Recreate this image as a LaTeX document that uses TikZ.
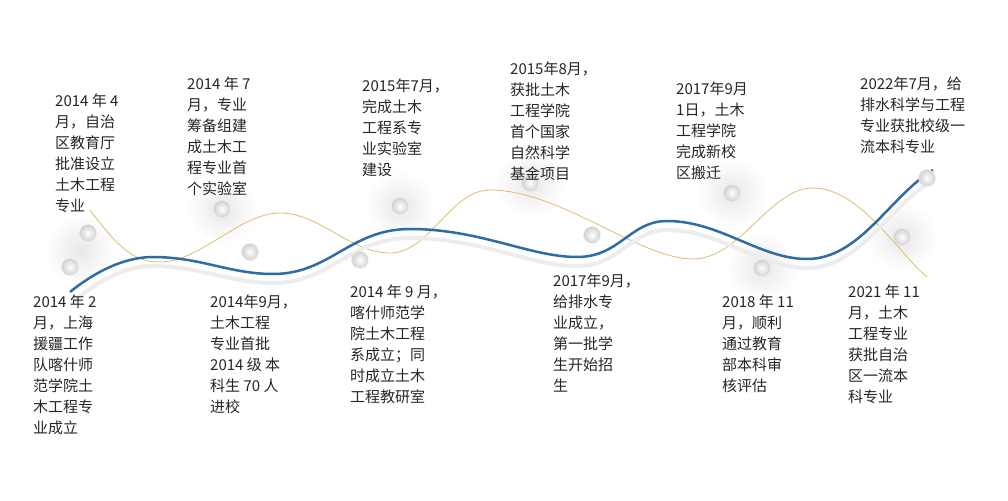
\documentclass[tikz,border=0pt]{standalone}
\usepackage{fontspec}
\setmainfont{Noto Sans CJK SC}
\begin{document}
\begin{tikzpicture}[x=1pt,y=-1pt,
  txt/.style={anchor=north west,inner sep=0pt,align=left,font=\fontsize{15}{21}\selectfont,text=black!85},
  ball/.style={circle,minimum size=17pt,inner sep=0pt,inner color=white,outer color=black!18,draw=white!85!gray,line width=0.4pt},
  blob/.style={circle,minimum size=70pt,inner color=black!9,outer color=white,draw=none}]
\definecolor{bl}{RGB}{46,109,164}
\definecolor{gd}{RGB}{222,190,110}
\useasboundingbox (0,0) rectangle (1008,500);
\fill[white] (0,0) rectangle (1008,500);
% shadow blobs
\foreach \x/\y in {80/250,222/209,400/206,530/183,732/193,762/268,902/237}
  \node[blob] at (\x,\y) {};
% gold curve
\draw[gd,line width=0.8pt] (90,210) .. controls (120,250) and (135,262) .. (160,262)
  .. controls (200,262) and (240,213) .. (280,213)
  .. controls (320,213) and (350,253) .. (390,253)
  .. controls (430,253) and (450,190) .. (490,190)
  .. controls (560,190) and (640,259) .. (693,259)
  .. controls (740,259) and (770,188) .. (813,188)
  .. controls (860,188) and (900,255) .. (927,277);
% blue curve shadow
\draw[black!7,line width=4pt] (74,301) .. controls (100,280) and (125,266) .. (153,266)
  .. controls (200,266) and (230,283) .. (273,283)
  .. controls (330,283) and (350,238) .. (410,238)
  .. controls (480,238) and (530,266) .. (577,266)
  .. controls (620,266) and (630,230) .. (667,230)
  .. controls (720,230) and (760,268) .. (807,268)
  .. controls (860,268) and (890,205) .. (933,180);
\draw[bl,line width=2.5pt] (70,292) .. controls (96,271) and (125,257) .. (153,257)
  .. controls (200,257) and (230,274) .. (273,274)
  .. controls (330,274) and (350,229) .. (410,229)
  .. controls (480,229) and (530,257) .. (577,257)
  .. controls (620,257) and (630,221) .. (667,221)
  .. controls (720,221) and (760,259) .. (807,259)
  .. controls (860,259) and (890,196) .. (933,170);
% balls
\foreach \n/\x/\y in {a/88/233,b/70/267,c/222/209,d/250/252,e/360/260,f/400/206,g/530/183,h/592/235,i/732/193,j/762/268,k/902/237,l/927/178}
  \node[ball] (b\n) at (\x,\y) {};
% texts
\node[txt] (t1) at (55,94) {2014 年 4\\月，自治\\区教育厅\\批准设立\\土木工程\\专业};
\node[txt] (t2) at (187,77) {2014 年 7\\月，专业\\筹备组建\\成土木工\\程专业首\\个实验室};
\node[txt] (t3) at (362,79) {2015年7月，\\完成土木\\工程系专\\业实验室\\建设};
\node[txt] (t4) at (510,62) {2015年8月，\\获批土木\\工程学院\\首个国家\\自然科学\\基金项目};
\node[txt] (t5) at (676,82) {2017年9月\\1日，土木\\工程学院\\完成新校\\区搬迁};
\node[txt] (t6) at (860,77) {2022年7月，给\\排水科学与工程\\专业获批校级一\\流本科专业};
\node[txt] (t7) at (33,295) {2014 年 2\\月，上海\\援疆工作\\队喀什师\\范学院土\\木工程专\\业成立};
\node[txt] (t8) at (210,295) {2014年9月，\\土木工程\\专业首批\\2014 级 本\\科生 70 人\\进校};
\node[txt] (t9) at (350,285) {2014 年 9 月，\\喀什师范学\\院土木工程\\系成立；同\\时成立土木\\工程教研室};
\node[txt] (t10) at (553,274) {2017年9月，\\给排水专\\业成立，\\第一批学\\生开始招\\生};
\node[txt] (t11) at (722,295) {2018 年 11\\月，顺利\\通过教育\\部本科审\\核评估};
\node[txt] (t12) at (848,285) {2021 年 11\\月，土木\\工程专业\\获批自治\\区一流本\\科专业};
\end{tikzpicture}
\end{document}
